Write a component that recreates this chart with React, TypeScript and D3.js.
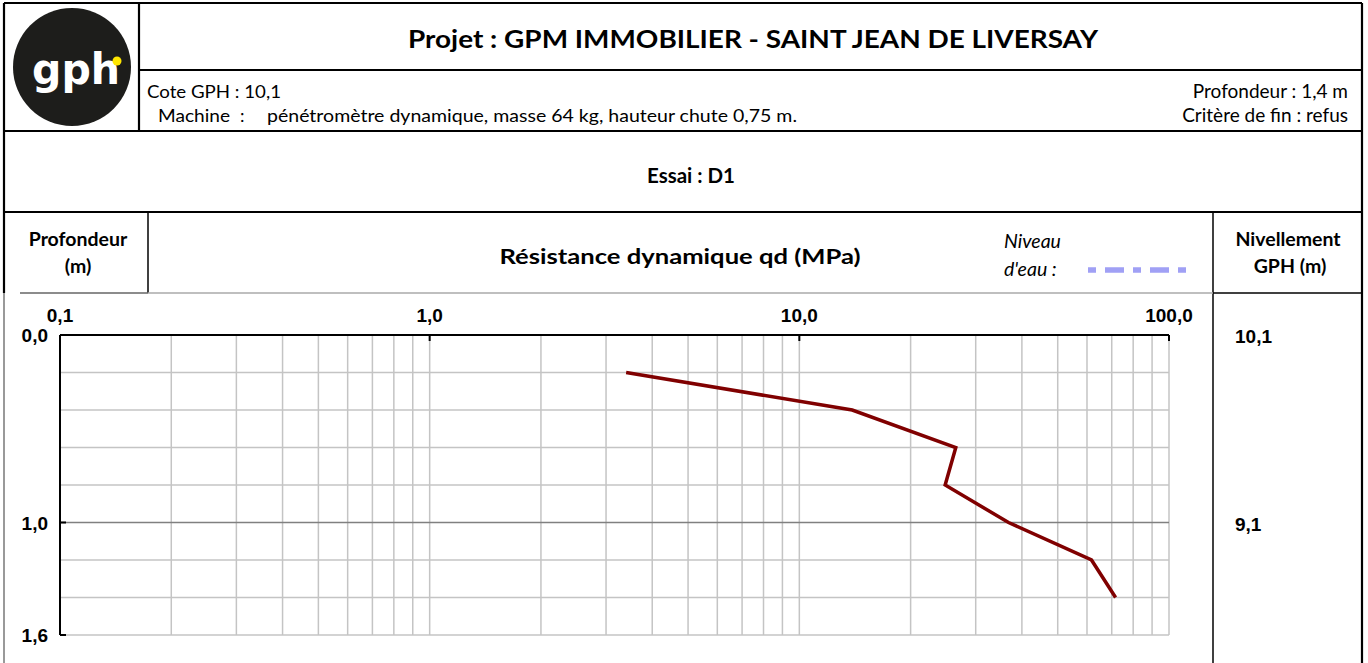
import React from 'react';
import * as d3 from 'd3';

// sondage D1 - profondeur (m) / résistance qd (MPa)
const depths = [0.2, 0.4, 0.6, 0.8, 1.0, 1.2, 1.4];
const qdValues = [3.4, 13.9, 26.5, 24.8, 36.8, 61.7, 71.7];

const xTicks = [0.1, 1, 10, 100];
const xTickLabels = ['0,1', '1,0', '10,0', '100,0'];
const yTicks = [0, 1.0, 1.6];
const yTickLabels = ['0,0', '1,0', '1,6'];
const levelDepths = [0, 1.0];
const levelLabels = ['10,1', '9,1'];
const gridDepths = [0.2, 0.4, 0.6, 0.8, 1.2, 1.4, 1.6];

const W = 1368;
const H = 663;
const serif = 'Lato, "Open Sans", sans-serif';
const arial = 'Arial, "Liberation Sans", sans-serif';

const App = () => {
    const xScale = d3.scaleLog().domain([0.1, 100]).range([60, 1169]);
    const yScale = d3.scaleLinear().domain([0, 1.6]).range([335, 635]);

    // lignes mineures: 2..9 de chaque décade
    const minorX: number[] = [];
    [0.1, 1, 10].forEach((dec) => {
        for (let k = 2; k <= 9; k++) minorX.push(dec * k);
    });

    const line = d3.line<number>()
        .x((_d, i) => xScale(qdValues[i]))
        .y((d) => yScale(d));

    const [x0, x1] = xScale.range();
    const [y0, y1] = yScale.range();

    return (
        <div style={{ position: 'absolute', left: 0, top: 0 }}>
            <svg width={W} height={H} style={{ display: 'block', background: '#fff' }}>
                {/* cadre en-tête */}
                <g stroke="#000" strokeWidth={2.2} fill="none">
                    <line x1={4} x2={1362} y1={3} y2={3} />
                    <line x1={4} x2={4} y1={3} y2={293} />
                    <line x1={1362} x2={1362} y1={3} y2={663} />
                    <line x1={139} x2={139} y1={3} y2={131} />
                    <line x1={139} x2={1362} y1={70} y2={70} />
                    <line x1={4} x2={1362} y1={131} y2={131} />
                    <line x1={4} x2={1362} y1={212} y2={212} />
                    <line x1={1213} x2={1213} y1={212} y2={663} strokeWidth={1.5} />
                    <line x1={148} x2={148} y1={212} y2={293} strokeWidth={1.5} />
                    <line x1={1213} x2={1362} y1={293} y2={293} strokeWidth={1.5} />
                </g>
                <line x1={4} x2={4} y1={293} y2={663} stroke="#777" strokeWidth={1.5} />
                <line x1={20} x2={148} y1={293} y2={293} stroke="#666" strokeWidth={1.5} />
                <line x1={148} x2={1213} y1={293} y2={293} stroke="#aaa" strokeWidth={1.5} />

                {/* logo */}
                <circle cx={72} cy={67} r={59} fill="#1d1d1b" />
                <text x={76} y={84} textAnchor="middle" fill="#fff" fontFamily={'"DejaVu Sans", sans-serif'}
                    fontWeight={700} fontSize={42} textLength={88} lengthAdjust="spacingAndGlyphs">gph</text>
                <circle cx={117} cy={61} r={4.5} fill="#ffe600" />

                {/* textes en-tête */}
                <text x={753} y={48} textAnchor="middle" fontFamily={serif} fontWeight={700} fontSize={24}
                    textLength={690} lengthAdjust="spacingAndGlyphs">Projet : GPM IMMOBILIER - SAINT JEAN DE LIVERSAY</text>
                <text x={147} y={98} fontFamily={serif} fontSize={18} textLength={134} lengthAdjust="spacingAndGlyphs">Cote GPH : 10,1</text>
                <text y={122} fontFamily={serif} fontSize={18}>
                    <tspan x={158} textLength={72} lengthAdjust="spacingAndGlyphs">Machine</tspan>
                    <tspan x={240}>:</tspan>
                    <tspan x={267} textLength={530} lengthAdjust="spacingAndGlyphs">pénétromètre dynamique, masse 64 kg, hauteur chute 0,75 m.</tspan>
                </text>
                <text x={1348} y={98} textAnchor="end" fontFamily={serif} fontSize={19}>Profondeur : 1,4 m</text>
                <text x={1348} y={122} textAnchor="end" fontFamily={serif} fontSize={19}>Critère de fin : refus</text>
                <text x={691} y={183} textAnchor="middle" fontFamily={serif} fontWeight={700} fontSize={20.5}>Essai : D1</text>

                <text x={78} y={246} textAnchor="middle" fontFamily={serif} fontWeight={700} fontSize={19.5}>Profondeur</text>
                <text x={78} y={273} textAnchor="middle" fontFamily={serif} fontWeight={700} fontSize={19.5}>(m)</text>
                <text x={680} y={264} textAnchor="middle" fontFamily={serif} fontWeight={700} fontSize={21}
                    textLength={361} lengthAdjust="spacingAndGlyphs">Résistance dynamique qd (MPa)</text>
                <text x={1004} y={248} fontFamily={serif} fontStyle="italic" fontSize={19.5}>Niveau</text>
                <text x={1004} y={276} fontFamily={serif} fontStyle="italic" fontSize={19.5}>d'eau :</text>
                <line x1={1088} x2={1193} y1={270} y2={270} stroke="#a0a0f5" strokeWidth={5.5}
                    strokeDasharray="8,9,19,9" />
                <text x={1288} y={246} textAnchor="middle" fontFamily={serif} fontWeight={700} fontSize={19.5}>Nivellement</text>
                <text x={1290} y={273} textAnchor="middle" fontFamily={serif} fontWeight={700} fontSize={19.5}>GPH (m)</text>

                {/* grille */}
                <g stroke="#c4c4c4" strokeWidth={1.5}>
                    {minorX.map((v) => (
                        <line key={'vx' + v} x1={xScale(v)} x2={xScale(v)} y1={y0} y2={y1} />
                    ))}
                    {xTicks.slice(1).map((v) => (
                        <line key={'mx' + v} x1={xScale(v)} x2={xScale(v)} y1={y0} y2={y1} />
                    ))}
                    {gridDepths.map((d) => (
                        <line key={'hy' + d} x1={x0} x2={x1} y1={yScale(d)} y2={yScale(d)} />
                    ))}
                </g>
                <line x1={x0} x2={x1} y1={yScale(1.0)} y2={yScale(1.0)} stroke="#808080" strokeWidth={1.5} />

                {/* axes */}
                <g stroke="#000" strokeWidth={2}>
                    <line x1={x0} x2={x1} y1={y0} y2={y0} />
                    <line x1={x0} x2={x0} y1={y0} y2={y1} />
                    {xTicks.slice(1).map((v) => (
                        <line key={'tx' + v} x1={xScale(v)} x2={xScale(v)} y1={y0} y2={y0 + 6} />
                    ))}
                    {yTicks.slice(1).map((d) => (
                        <line key={'ty' + d} x1={x0} x2={x0 + 6} y1={yScale(d)} y2={yScale(d)} />
                    ))}
                </g>
                {xTicks.map((v, i) => (
                    <text key={'lx' + v} x={xScale(v)} y={y0 - 13} textAnchor="middle" fontFamily={arial}
                        fontWeight={700} fontSize={19}>{xTickLabels[i]}</text>
                ))}
                {yTicks.map((d, i) => (
                    <text key={'ly' + d} x={48} y={yScale(d) + 7} textAnchor="end" fontFamily={arial}
                        fontWeight={700} fontSize={19}>{yTickLabels[i]}</text>
                ))}
                {levelDepths.map((d, i) => (
                    <text key={'nv' + d} x={1235} y={yScale(d) + 8} fontFamily={arial}
                        fontWeight={700} fontSize={19}>{levelLabels[i]}</text>
                ))}

                {/* courbe */}
                <path d={line(depths) || ''} fill="none" stroke="#800000" strokeWidth={3.5} strokeLinejoin="miter" />
            </svg>
        </div>
    );
};

export default App;
